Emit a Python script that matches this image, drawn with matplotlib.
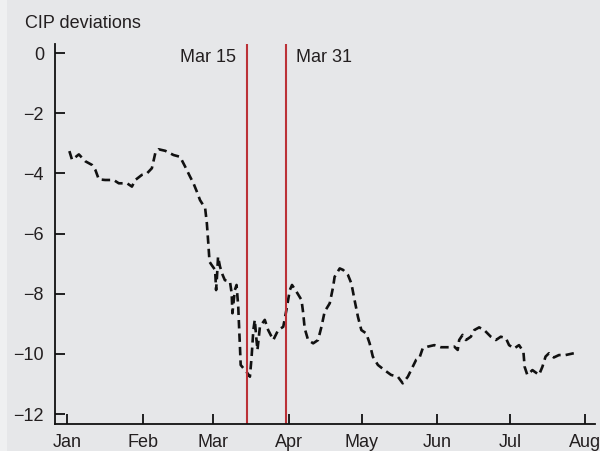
import matplotlib
matplotlib.use("Agg")
import matplotlib.pyplot as plt
import matplotlib.dates as mdates
from matplotlib.patches import Rectangle
import pandas as pd

plt.rcParams['font.family'] = ['Liberation Sans', 'DejaVu Sans']

# days since 1 Jan 2020 and CIP deviation values
days = [0.9, 2.0, 4.8, 7.5, 10.2, 11.6, 13.0, 15.6, 19.1, 21.2, 24.6, 26.6, 28.0,
        30.7, 32.8, 34.8, 36.2, 37.6, 40.3, 43.7, 46.4, 48.5, 50.5, 51.9, 53.3,
        54.6, 56.7, 57.4, 58.0, 58.5, 59.4, 60.8, 61.2, 61.6, 62.0, 62.8, 63.9,
        64.8, 66.9, 67.6, 67.9, 68.9, 69.6, 70.3, 70.7, 71.0, 71.3, 73.7, 75.1,
        75.8, 76.5, 77.1, 77.8, 78.2, 79.2, 81.2, 82.6, 84.7, 86.7, 88.8, 90.1,
        91.5, 92.4, 94.2, 96.3, 97.0, 97.6, 99.0, 101.1, 103.1, 104.5, 105.8,
        107.9, 109.3, 109.9, 112.0, 113.4, 115.4, 116.8, 118.1, 119.5, 120.9,
        122.9, 124.3, 125.6, 127.7, 130.4, 133.1, 135.9, 137.9, 140.0, 142.0,
        143.4, 144.7, 146.1, 148.2, 150.9, 153.6, 157.0, 159.1, 160.5, 161.1,
        162.5, 163.9, 165.9, 167.3, 169.3, 171.4, 174.1, 176.2, 178.2, 180.3,
        181.6, 183.7, 185.7, 187.5, 188.0, 189.1, 191.2, 193.9, 195.3, 196.6,
        198.0, 200.0, 202.1, 204.8, 208.2]
cip = [-3.26, -3.55, -3.37, -3.60, -3.72, -3.89, -4.20, -4.22, -4.22, -4.33, -4.33,
       -4.44, -4.22, -4.05, -4.00, -3.83, -3.33, -3.20, -3.25, -3.39, -3.45, -3.78,
       -4.11, -4.33, -4.61, -4.89, -5.16, -5.66, -6.33, -6.94, -7.05, -7.21, -7.88,
       -7.38, -6.77, -7.10, -7.38, -7.55, -7.60, -7.99, -8.65, -7.88, -7.71, -8.43,
       -9.21, -9.76, -10.37, -10.60, -10.76, -10.09, -9.21, -8.87, -9.54, -9.87,
       -9.10, -8.87, -9.21, -9.54, -9.21, -9.10, -8.54, -7.88, -7.71, -7.93, -8.21,
       -8.65, -9.15, -9.54, -9.65, -9.54, -9.10, -8.60, -8.32, -7.77, -7.44, -7.16,
       -7.21, -7.38, -7.66, -8.21, -8.77, -9.21, -9.32, -9.65, -10.09, -10.37,
       -10.54, -10.70, -10.76, -10.98, -10.76, -10.43, -10.20, -10.15, -9.82, -9.76,
       -9.71, -9.78, -9.78, -9.76, -9.87, -9.54, -9.37, -9.54, -9.43, -9.21, -9.12,
       -9.21, -9.43, -9.54, -9.43, -9.48, -9.71, -9.82, -9.71, -9.93, -10.43, -10.70,
       -10.54, -10.70, -10.43, -10.09, -9.98, -10.12, -10.04, -10.04, -9.98]

events = ["2020-03-15", "2020-03-31"]
event_labels = ["Mar 15", "Mar 31"]
month_ticks = pd.date_range("2020-01-01", "2020-08-01", freq="MS")

bg = "#e6e7e9"
red = "#bb3137"
ink = "#231f20"

dates = pd.Timestamp("2020-01-01") + pd.to_timedelta(days, unit="D")

fig = plt.figure(figsize=(6, 4.51), dpi=100, facecolor=bg)
# thin lighter strip on the left edge
fig.patches.append(Rectangle((0, 0), 7 / 600, 1, transform=fig.transFigure,
                             facecolor="#eff0f1", edgecolor="none", zorder=0))
ax = fig.add_axes([0.0917, 0.06, 0.9003, 0.8424])
ax.set_facecolor(bg)

ax.plot(dates, cip, color="#111111", linewidth=1.9, dashes=(3.2, 1.9))

for d, lab, side in zip(events, event_labels, ["right", "left"]):
    x = pd.Timestamp(d)
    ax.axvline(x, color=red, linewidth=1.5)
    off = pd.Timedelta(days=-4.5) if side == "right" else pd.Timedelta(days=4)
    ax.text(x + off, -0.15, lab, ha=side, va="center", fontsize=13, color=ink)

ax.set_ylim(-12.33, 0.3)
ax.set_yticks(range(-12, 1, 2))
ax.set_yticklabels(["\u221212", "\u221210", "\u22128", "\u22126", "\u22124", "\u22122", "0"])
ax.set_xlim(pd.Timestamp("2019-12-27"), pd.Timestamp("2020-08-05"))
ax.set_xticks(month_ticks)
ax.xaxis.set_major_formatter(mdates.DateFormatter("%b"))

for s in ["top", "right"]:
    ax.spines[s].set_visible(False)
for s in ["left", "bottom"]:
    ax.spines[s].set_linewidth(1.3)
    ax.spines[s].set_color("#111111")
ax.tick_params(direction="in", length=7.5, width=1.3, color="#111111",
               labelsize=13, labelcolor=ink)
ax.tick_params(axis="y", pad=8)
ax.tick_params(axis="x", pad=7)

fig.text(25 / 600, 1 - 24 / 451, "CIP deviations", ha="left", va="center",
         fontsize=13, color=ink)

fig.savefig("out.png", dpi=100, facecolor=bg)
